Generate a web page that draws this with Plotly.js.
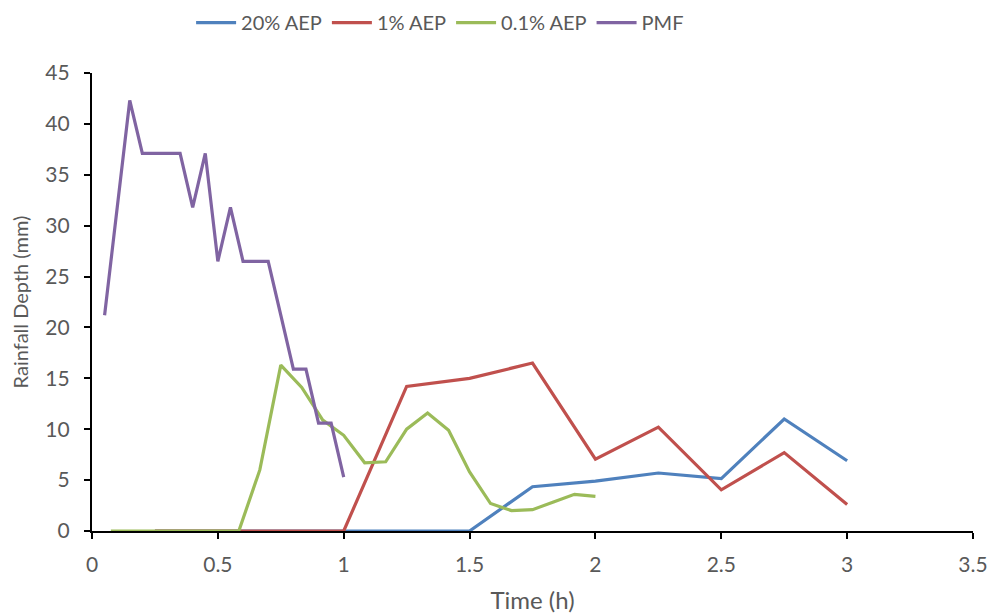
<!DOCTYPE html>
<html>
<head>
<meta charset="utf-8">
<script src="https://cdn.plot.ly/plotly-3.0.1.min.js"></script>
<style>html,body{margin:0;padding:0;background:#fff;}#chart{width:989px;height:614px;}</style>
</head>
<body>
<div id="chart"></div>
<script>
// Data
const seriesNames = ["20% AEP", "1% AEP", "0.1% AEP", "PMF"];
const seriesColors = ["#4F81BD", "#C0504D", "#9BBB59", "#8064A2"];

const aep20Time = [0.25, 0.5, 0.75, 1.0, 1.25, 1.5, 1.75, 2.0, 2.25, 2.5, 2.75, 3.0];
const aep20Depth = [0, 0, 0, 0, 0, 0, 4.35, 4.9, 5.7, 5.15, 11.0, 6.9];

const aep1Time = [0.25, 0.5, 0.75, 1.0, 1.25, 1.5, 1.75, 2.0, 2.25, 2.5, 2.75, 3.0];
const aep1Depth = [0, 0, 0, 0, 14.2, 15.0, 16.5, 7.05, 10.2, 4.05, 7.7, 2.6];

const aep01Time = [0.075, 0.1667, 0.25, 0.3333, 0.4167, 0.5, 0.5833, 0.6667, 0.75, 0.8333, 0.9167, 1.0,
                   1.0833, 1.1667, 1.25, 1.3333, 1.4167, 1.5, 1.5833, 1.6667, 1.75, 1.8333, 1.9167, 2.0];
const aep01Depth = [0, 0, 0, 0, 0, 0, 0, 6.0, 16.3, 14.1, 10.9, 9.4,
                    6.7, 6.8, 10.0, 11.6, 9.9, 5.8, 2.7, 2.0, 2.1, 2.85, 3.6, 3.4];

const pmfTime = [0.05, 0.1, 0.15, 0.2, 0.25, 0.3, 0.35, 0.4, 0.45, 0.5, 0.55, 0.6, 0.65, 0.7, 0.75, 0.8, 0.85, 0.9, 0.95, 1.0];
const pmfDepth = [21.2, 31.8, 42.3, 37.1, 37.1, 37.1, 37.1, 31.8, 37.1, 26.5, 31.8, 26.5, 26.5, 26.5, 21.2, 15.9, 15.9, 10.6, 10.6, 5.3];

const xTicks = [0, 0.5, 1, 1.5, 2, 2.5, 3, 3.5];
const xTickLabels = ["0", "0.5", "1", "1.5", "2", "2.5", "3", "3.5"];
const yTicks = [0, 5, 10, 15, 20, 25, 30, 35, 40, 45];

const xs = [aep20Time, aep1Time, aep01Time, pmfTime];
const ys = [aep20Depth, aep1Depth, aep01Depth, pmfDepth];

const traces = seriesNames.map((n, i) => ({
  x: xs[i], y: ys[i], name: n, type: "scatter", mode: "lines",
  line: {color: seriesColors[i], width: 3.2}
}));

const font = {family: "Lato, 'Open Sans', sans-serif", size: 20, color: "#595959"};
const tickFont = {family: "Lato, 'Open Sans', sans-serif", size: 21, color: "#595959"};
const xTitleFont = {family: "Lato, 'Open Sans', sans-serif", size: 24, color: "#595959"};

const layout = {
  width: 989, height: 614,
  margin: {l: 92, r: 16, t: 73, b: 83},
  paper_bgcolor: "#fff", plot_bgcolor: "#fff",
  font: font,
  showlegend: true,
  legend: {orientation: "h", x: 0.445, xref: "container", xanchor: "center", y: 0.995, yref: "container", yanchor: "top",
           font: font, itemwidth: 40, tracegroupgap: 0},
  xaxis: {
    range: [0, 3.5], tickvals: xTicks, ticktext: xTickLabels,
    showline: true, linecolor: "#000", linewidth: 2.2, mirror: false,
    ticks: "outside", ticklen: 6, tickwidth: 2, tickcolor: "#000",
    ticklabelstandoff: 8,
    showgrid: false, zeroline: false, tickfont: tickFont,
    title: {text: "Time (h)", font: xTitleFont, standoff: 18}
  },
  yaxis: {
    range: [0, 45], tickvals: yTicks,
    showline: true, linecolor: "#000", linewidth: 2.2,
    ticks: "outside", ticklen: 6, tickwidth: 2, tickcolor: "#000",
    ticklabelstandoff: 10,
    showgrid: false, zeroline: false, tickfont: tickFont,
    title: {text: "Rainfall Depth (mm)", font: font, standoff: 11}
  }
};

Plotly.newPlot("chart", traces, layout, {staticPlot: true, displayModeBar: false});
</script>
</body>
</html>
